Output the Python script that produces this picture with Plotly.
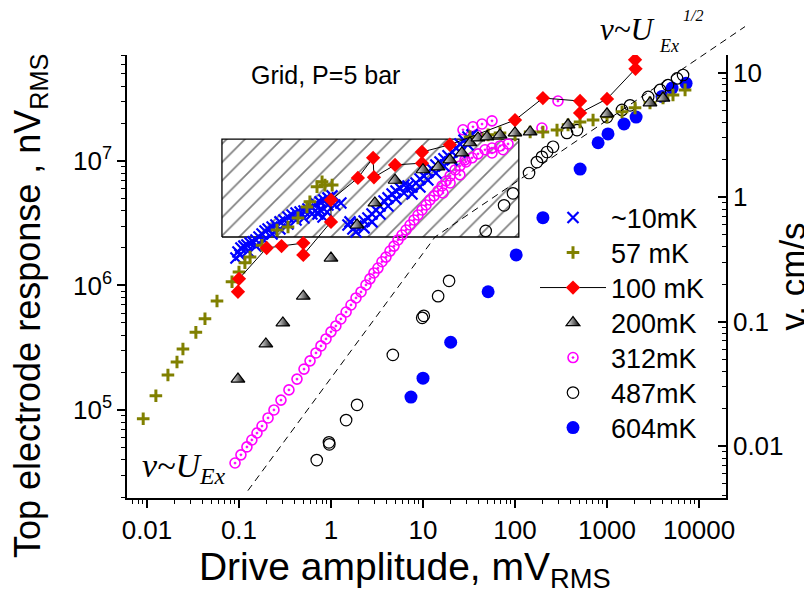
import plotly.graph_objects as go

FONT = "Liberation Sans, Arial, sans-serif"
SERIF = "Liberation Serif, Times New Roman, serif"

# ---------------- data ----------------
# ~10 mK (blue crosses): upper edge and lower edge of the dense band
x10 = [0.0927, 0.0975, 0.105, 0.113, 0.122, 0.132, 0.142, 0.153, 0.165, 0.178, 0.192, 0.207,
       0.229, 0.252, 0.279, 0.308, 0.341, 0.377, 0.417, 0.461, 0.509, 0.562, 0.621, 0.687,
       0.759, 0.839, 0.927, 1.025, 0.722, 0.819, 0.905, 1.10, 1.28,
       1.53, 1.61, 1.73, 1.87, 2.07, 2.29, 2.52, 2.79, 3.08, 3.41, 3.77, 4.17, 4.61, 5.09,
       5.62, 6.21, 6.87, 7.59, 8.39, 9.27, 10.25, 11.3, 12.5, 13.8, 15.3, 16.9, 18.7, 20.7,
       22.9, 25.2, 27.9, 30.8, 34.1,
       0.1026, 0.125, 0.153, 0.187, 0.229, 0.279, 0.341, 0.417, 0.509, 0.621, 0.759, 0.927,
       1.87, 2.29, 2.79, 3.41, 4.17, 5.09, 6.21, 7.59, 9.27, 11.3, 13.8, 16.9, 20.7, 25.2, 30.8]
y10 = [1.66e6, 1.86e6, 2.0e6, 2.07e6, 2.11e6, 2.19e6, 2.24e6, 2.32e6, 2.45e6, 2.59e6, 2.74e6, 2.84e6,
       2.95e6, 3.06e6, 3.24e6, 3.36e6, 3.55e6, 3.68e6, 3.82e6, 3.89e6, 3.96e6, 4.11e6, 4.27e6, 4.52e6,
       4.69e6, 4.86e6, 5.05e6, 5.24e6, 3.75e6, 3.55e6, 3.89e6, 4.43e6, 4.6e6,
       3.06e6, 3.24e6, 2.84e6, 3.0e6, 3.12e6, 3.3e6, 3.48e6, 3.75e6, 4.04e6, 4.35e6, 4.77e6, 5.05e6, 5.43e6, 5.74e6,
       6.07e6, 6.41e6, 6.3e6, 6.18e6, 6.65e6, 7.17e6, 7.58e6, 8.16e6, 8.63e6, 9.29e6, 9.82e6, 1.04e7, 1.1e7, 1.18e7,
       1.27e7, 1.37e7, 1.47e7, 1.56e7, 1.62e7,
       1.76e6, 1.89e6, 2.07e6, 2.32e6, 2.59e6, 2.84e6, 3.12e6, 3.36e6, 3.48e6, 3.75e6, 4.04e6, 4.43e6,
       2.69e6, 2.9e6, 3.24e6, 3.75e6, 4.35e6, 4.95e6, 5.53e6, 5.43e6, 6.18e6, 7.03e6, 8.01e6, 9.12e6,
       1.02e7, 1.18e7, 1.35e7]

# 57 mK (olive plus)
x57 = [0.0091, 0.0125, 0.0169, 0.0212, 0.0246, 0.034, 0.0427, 0.0577, 0.084, 0.1, 0.116, 0.132,
       0.178, 0.259, 0.341, 0.438, 0.548, 0.59, 0.705, 0.8, 0.86, 1.03,
       32.4, 51, 68.7, 100, 146, 201, 286, 377, 509, 705, 1000, 1456, 2015, 2930, 4060, 5210, 7050]
y57 = [8.5e4, 1.3e5, 1.91e5, 2.43e5, 3.09e5, 4.2e5, 5.4e5, 7.5e5, 1.07e6, 1.28e6, 1.52e6, 1.69e6,
       2.1e6, 2.79e6, 2.95e6, 3.49e6, 4.27e6, 4.7e6, 6.2e6, 6.8e6, 6.4e6, 6.4e6,
       1.56e7, 1.62e7, 1.68e7, 1.62e7, 1.71e7, 1.71e7, 1.77e7, 1.95e7, 2.06e7, 2.13e7, 2.26e7, 2.48e7,
       2.67e7, 2.93e7, 3.2e7, 3.39e7, 3.72e7]

# 100 mK (red diamonds, joined)
x100 = [0.0975, 0.1, 0.2, 0.29, 0.5, 0.5, 1.0, 1.0, 1.96, 2.87, 2.93, 4.97, 9.75, 9.75, 19.6,
        100, 201, 509, 509, 1000, 2040, 2015]
y100 = [8.9e5, 1.13e6, 2.0e6, 2.07e6, 2.19e6, 1.76e6, 3.24e6, 4.86e6, 7.3e6, 1.06e7, 7.4e6, 9.3e6,
        9.6e6, 1.18e7, 1.35e7, 2.13e7, 3.2e7, 3.03e7, 2.43e7, 3.15e7, 5.5e7, 6.5e7]

# 200 mK (half filled triangles)
x200 = [0.0975, 0.196, 0.3, 0.5, 1.0, 1.92, 3.0, 4.97, 10, 14.6, 19.6, 26.5, 32.4, 39.6, 49.6,
        68.7, 100, 146, 377, 1000, 2930, 4060]
y200 = [1.77e5, 3.39e5, 5.0e5, 8.2e5, 1.66e6, 3.06e6, 4.6e6, 7.0e6, 8.5e6, 8.95e6, 1.02e7, 1.16e7,
        1.4e7, 1.53e7, 1.56e7, 1.62e7, 1.68e7, 1.71e7, 1.95e7, 2.39e7, 2.93e7, 3.2e7]

# 312 mK (magenta dotted circles)
x312 = [0.0906, 0.105, 0.122, 0.138, 0.157, 0.178, 0.207, 0.240, 0.286, 0.349, 0.427, 0.509,
        0.592, 0.687, 0.778, 0.883, 1.0, 1.13, 1.28, 1.46, 1.65, 1.87, 2.12, 2.40,
        2.65, 2.93, 3.24, 3.58, 3.96, 4.38, 4.84, 5.35, 5.91, 6.54, 7.23, 7.98, 8.83, 9.75,
        10.8, 11.9, 13.2, 14.6, 16.1, 17.8, 19.7, 22.3, 25.2, 29.3, 34.1, 39.6, 47.2, 56.2,
        68.7, 84,
        16.5, 19.7, 25.2, 28.6, 38.6, 56.2, 74.1, 27.2, 34.9, 43.8, 56.2, 196, 293]
y312 = [3.75e4, 4.36e4, 5.05e4, 5.74e4, 6.53e4, 7.43e4, 8.63e4, 1.0e5, 1.2e5, 1.45e5, 1.77e5, 2.13e5,
        2.48e5, 2.87e5, 3.27e5, 3.72e5, 4.24e5, 4.73e5, 5.38e5, 6.12e5, 6.97e5, 7.94e5, 8.87e5, 1.01e6,
        1.13e6, 1.26e6, 1.38e6, 1.55e6, 1.69e6, 1.89e6, 2.07e6, 2.32e6, 2.54e6, 2.79e6, 3.06e6, 3.36e6,
        3.68e6, 4.04e6, 4.43e6, 4.86e6, 5.24e6, 5.74e6, 6.3e6, 6.9e6, 7.58e6, 8.47e6, 9.12e6, 9.82e6,
        1.06e7, 1.14e7, 1.23e7, 1.27e7, 1.32e7, 1.37e7,
        5.53e6, 6.65e6, 7.73e6, 1.02e7, 1.62e7, 1.16e7, 1.23e7, 1.78e7, 1.88e7, 1.98e7, 2.1e7, 1.84e7, 3.03e7]

# 487 mK (open black circles)
x487 = [0.70, 0.95, 0.96, 1.46, 1.92, 4.7, 9.8, 10.2, 14.6, 19.2, 48, 76, 95, 142, 173, 196, 223,
        259, 367, 472, 1000, 1455, 1780, 2800, 3770, 4600, 5770, 6700]
y487 = [3.96e4, 5.5e4, 5.3e4, 8.3e4, 1.1e5, 2.77e5, 5.5e5, 5.7e5, 8.2e5, 1.09e6, 2.74e6, 4.4e6,
        5.5e6, 8.0e6, 9.8e6, 1.08e7, 1.18e7, 1.3e7, 1.68e7, 1.77e7, 2.25e7, 2.57e7, 2.8e7, 3.27e7,
        3.72e7, 4.07e7, 4.6e7, 4.9e7]

# 604 mK (filled blue circles)
x604 = [7.4, 10, 20, 51, 103, 201, 510, 800, 1025, 1530, 2070, 3960, 5090, 7230]
y604 = [1.27e5, 1.8e5, 3.5e5, 8.9e5, 1.76e6, 3.5e6, 8.6e6, 1.4e7, 1.65e7, 1.98e7, 2.25e7, 3.3e7,
        3.85e7, 4.2e7]

# hatched region (drive, response corners)
box_x = [0.0653, 110]
box_y = [2.45e6, 1.5e7]

# guide line v~U (slope 1) then v~U^1/2
guide_x = [0.125, 13.5, 31600]
guide_y = [2.25e4, 2.45e6, 1.2e8]

# axes
x_ticks = [0.01, 0.1, 1, 10, 100, 1000, 10000]
x_ticktext = ["0.01", "0.1", "1", "10", "100", "1000", "10000"]
y_ticks = [1e5, 1e6, 1e7]
y_ticktext = ["10<sup>5</sup>", "10<sup>6</sup>", "10<sup>7</sup>"]
v_ticks = [0.01, 0.1, 1, 10]
v_ticktext = ["0.01", "0.1", "1", "10"]

X_RANGE = [-2.217, 4.293]
Y_RANGE = [4.293, 7.851]
V_RANGE = [-2.416, 1.142]

# ---------------- layout geometry ----------------
# the page body adds an 8px margin, so the figure is 8px smaller than the window
W, H = 804, 587
OFF = 8
ML, MR, MT, MB = 119, 40, 0, 97
PW, PH = W - ML - MR, H - MT - MB
plot_w, plot_h = 599, 443
dom_x = [0, plot_w / PW]
dom_y = [0, plot_h / PH]
ext_x = [X_RANGE[0], X_RANGE[0] + (X_RANGE[1] - X_RANGE[0]) / dom_x[1]]
ext_y = [Y_RANGE[0], Y_RANGE[0] + (Y_RANGE[1] - Y_RANGE[0]) / dom_y[1]]


def paper_x(px):
    return (px - OFF - ML) / PW


def paper_y(py):
    return (PH - (py - OFF - MT)) / PH


minor_x = [m * 10.0 ** e for e in range(-3, 5) for m in range(2, 10)]
minor_y = [m * 10.0 ** e for e in range(4, 8) for m in range(2, 10)]
minor_v = [m * 10.0 ** e for e in range(-3, 2) for m in range(2, 10)]

# legend rows (window pixel rows of each entry)
legend_rows = [218, 253, 288, 323, 358, 393, 428]
LEG_X = paper_x(535)

fig = go.Figure()

fig.add_trace(go.Scatter(
    x=[box_x[0], box_x[1], box_x[1], box_x[0], box_x[0]],
    y=[box_y[0], box_y[0], box_y[1], box_y[1], box_y[0]],
    mode="lines", fill="toself", fillcolor="white",
    fillpattern=dict(shape="/", size=13, solidity=0.13, fgcolor="black", bgcolor="white"),
    line=dict(color="black", width=1.3), showlegend=False, hoverinfo="skip"))

fig.add_trace(go.Scatter(x=x604, y=y604, mode="markers", name="604mK", legend="legend7",
                         marker=dict(symbol="circle", size=13, color="#0000FF")))
fig.add_trace(go.Scatter(x=x487, y=y487, mode="markers", name="487mK", legend="legend6",
                         marker=dict(symbol="circle-open", size=11.5, color="black", line=dict(width=1.2))))
fig.add_trace(go.Scatter(x=x312, y=y312, mode="markers", name="312mK", legend="legend5",
                         marker=dict(symbol="circle-open-dot", size=10, color="#FF00FF", line=dict(width=1.6))))
fig.add_trace(go.Scatter(x=x10, y=y10, mode="markers", name="~10mK", legend="legend",
                         marker=dict(symbol="x-thin", size=11, color="#0000FF", line=dict(width=2.2, color="#0000FF"))))
fig.add_trace(go.Scatter(x=x57, y=y57, mode="markers", name="57 mK", legend="legend2",
                         marker=dict(symbol="cross-thin", size=9, color="#808000", line=dict(width=3, color="#808000"))))
fig.add_trace(go.Scatter(x=x100, y=y100, mode="lines+markers", name="100 mK", legend="legend3",
                         line=dict(color="black", width=1),
                         marker=dict(symbol="diamond", size=11, color="#FF0000", line=dict(width=0))))
# half-filled triangles: white on the left fading into black on the right
fig.add_trace(go.Scatter(x=x200, y=y200, mode="markers", name="200mK", legend="legend4",
                         marker=dict(symbol="triangle-up", size=12, color="white",
                                     line=dict(color="black", width=1.2),
                                     gradient=dict(type="horizontal", color="black"))))
# keeps the right-hand velocity axis in use so that it is drawn
fig.add_trace(go.Scatter(x=[None], y=[None], yaxis="y3", mode="markers", showlegend=False,
                         hoverinfo="skip"))

fig.add_trace(go.Scatter(x=guide_x, y=guide_y, mode="lines", xaxis="x2", yaxis="y2",
                         line=dict(color="black", width=1, dash="7px,5px"),
                         showlegend=False, hoverinfo="skip"))

axis_common = dict(showgrid=False, zeroline=False, showline=True, linecolor="black", linewidth=1.5,
                   tickcolor="black", tickwidth=1.5, ticklen=8,
                   tickfont=dict(family=FONT, size=26, color="black"))

pad = "\u00a0" * 4 + "\u200b"
legend_common = dict(x=LEG_X, xanchor="left", yanchor="middle",
                     font=dict(size=27, family=FONT, color="black"), bgcolor="rgba(0,0,0,0)",
                     itemwidth=66)
legends = {}
for i, row in enumerate(legend_rows):
    key = "legend" if i == 0 else "legend%d" % (i + 1)
    legends[key] = dict(y=paper_y(row), **legend_common)

fig.update_layout(
    width=W, height=H,
    margin=dict(l=ML, r=MR, t=MT, b=MB),
    paper_bgcolor="white", plot_bgcolor="rgba(0,0,0,0)",
    font=dict(family=FONT, color="black"),
    xaxis=dict(type="log", range=X_RANGE, domain=dom_x, anchor="y", ticks="outside",
               tickmode="array", tickvals=x_ticks, ticktext=x_ticktext,
               minor=dict(tickmode="array", tickvals=minor_x, ticks="outside", ticklen=4,
                          tickcolor="black", tickwidth=1.2),
               title=dict(text="Drive amplitude, mV<sub>RMS</sub>" + pad,
                          font=dict(size=39, family=FONT), standoff=1),
               **axis_common),
    yaxis=dict(type="log", range=Y_RANGE, domain=dom_y, anchor="x", ticks="outside",
               tickmode="array", tickvals=y_ticks, ticktext=y_ticktext,
               minor=dict(tickmode="array", tickvals=minor_y, ticks="outside", ticklen=4,
                          tickcolor="black", tickwidth=1.2),
               **axis_common),
    yaxis3=dict(type="log", range=V_RANGE, overlaying="y", side="right", anchor="x", ticks="inside",
                tickmode="array", tickvals=v_ticks, ticktext=v_ticktext,
                minor=dict(tickmode="array", tickvals=minor_v, ticks="inside", ticklen=4,
                           tickcolor="black", tickwidth=1.2),
                title=dict(text="v, cm/s", font=dict(size=35, family=FONT), standoff=2),
                **axis_common),
    xaxis2=dict(type="log", range=ext_x, domain=[0, 1], anchor="y2", visible=False),
    yaxis2=dict(type="log", range=ext_y, domain=[0, 1], anchor="x2", visible=False),
    showlegend=True,
    annotations=[
        # left axis title, placed where the reference has it
        dict(text="Top electrode response , nV<sub>RMS</sub>", textangle=-90,
             x=paper_x(30), y=paper_y(306), xref="paper", yref="paper",
             xanchor="center", yanchor="middle", showarrow=False,
             font=dict(size=36, family=FONT, color="black")),
        dict(text="Grid, P=5 bar", x=-0.065, y=7.691, xref="x", yref="y", showarrow=False,
             font=dict(size=25, family=FONT, color="black")),
        dict(text="<i>v~U<sub>Ex</sub></i>", x=-2.076, y=4.534, xref="x", yref="y",
             xanchor="left", yanchor="middle", showarrow=False,
             font=dict(size=34, family=SERIF, color="black")),
        dict(text="<i>v~U</i>", x=2.902, y=8.052, xref="x2", yref="y2",
             xanchor="left", yanchor="middle", showarrow=False,
             font=dict(size=31, family=SERIF, color="black")),
        dict(text="<i>Ex</i>", x=3.543, y=7.924, xref="x2", yref="y2",
             xanchor="left", yanchor="middle", showarrow=False,
             font=dict(size=18, family=SERIF, color="black")),
        dict(text="<i>1/2</i>", x=3.804, y=8.170, xref="x2", yref="y2",
             xanchor="left", yanchor="middle", showarrow=False,
             font=dict(size=16, family=SERIF, color="black")),
    ],
    **legends,
)

fig.write_html("out.html")
